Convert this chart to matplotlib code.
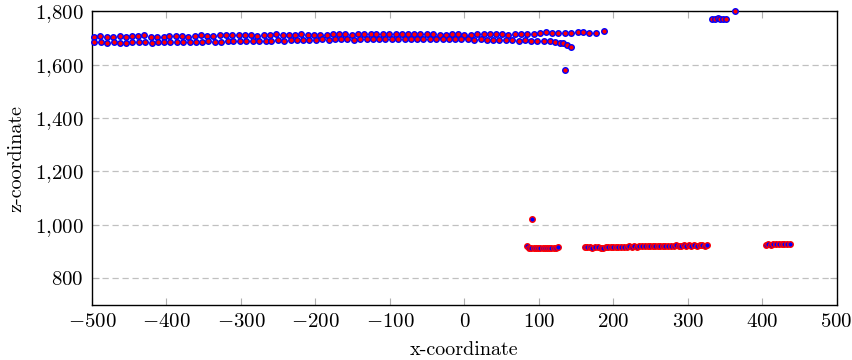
import matplotlib
matplotlib.use("Agg")
import matplotlib.pyplot as plt
from matplotlib.ticker import FixedLocator, FuncFormatter

# ---- data ----
row1_x = [-497, -489, -480, -472, -463, -455, -446, -438, -430, -421, -413, -404, -396, -387,
          -379, -371, -362, -354, -345, -337, -328, -320, -312, -303, -295, -286, -278, -269,
          -261, -253, -244, -236, -227, -219, -210, -202, -194, -185, -177, -168, -160, -151,
          -143, -135, -126, -118, -109, -101, -92, -84, -76, -67, -59, -50, -42, -33, -25, -17,
          -8, 0, 9, 17, 26, 34, 42, 51, 59, 68, 76, 84, 93, 101, 110, 118, 126, 135, 143, 152,
          160, 168, 177, 187]
row1_z = [1705, 1708, 1703, 1702, 1707, 1704, 1706, 1708, 1709, 1704, 1705, 1705, 1706, 1707,
          1706, 1705, 1708, 1709, 1708, 1707, 1709, 1711, 1710, 1709, 1710, 1709, 1708, 1710,
          1712, 1713, 1711, 1710, 1712, 1713, 1712, 1711, 1711, 1712, 1713, 1714, 1713, 1712,
          1714, 1715, 1714, 1713, 1713, 1713, 1714, 1713, 1713, 1713, 1713, 1714, 1713, 1712,
          1712, 1713, 1714, 1712, 1712, 1715, 1713, 1713, 1713, 1713, 1712, 1714, 1716, 1715,
          1716, 1719, 1721, 1718, 1718, 1718, 1719, 1722, 1721, 1719, 1720, 1727]

row2_x = [-497, -488, -480, -471, -463, -454, -446, -437, -429, -420, -412, -403, -395, -386,
          -378, -369, -361, -352, -344, -335, -327, -318, -310, -301, -293, -284, -276, -267,
          -259, -250, -242, -233, -225, -216, -208, -199, -191, -182, -174, -165, -157, -148,
          -140, -131, -123, -114, -106, -97, -89, -80, -72, -63, -55, -46, -38, -29, -21, -12,
          -4, 5, 13, 22, 30, 39, 47, 56, 64, 73, 81, 90, 98, 107, 115, 122, 128, 133, 138, 143]
row2_z = [1683, 1684, 1682, 1683, 1681, 1682, 1684, 1683, 1685, 1682, 1683, 1684, 1683, 1685,
          1684, 1686, 1685, 1686, 1687, 1686, 1685, 1687, 1688, 1689, 1688, 1687, 1689, 1690,
          1690, 1691, 1690, 1692, 1693, 1692, 1691, 1693, 1694, 1693, 1694, 1695, 1694, 1693,
          1695, 1694, 1696, 1695, 1694, 1695, 1696, 1695, 1694, 1695, 1696, 1695, 1694, 1695,
          1696, 1695, 1694, 1695, 1693, 1694, 1692, 1693, 1691, 1692, 1691, 1690, 1691, 1690,
          1690, 1689, 1688, 1685, 1682, 1679, 1674, 1667]

up_out_x = [135]
up_out_z = [1579]

upright_x = [332, 336, 340, 344, 348, 352, 363]
upright_z = [1772, 1771, 1773, 1770, 1771, 1771, 1801]

low1_x = [84, 87, 90, 93, 96, 99, 102, 105, 108, 111, 114, 117, 120, 123, 126]
low1_z = [921, 915, 913, 912, 914, 913, 912, 914, 913, 912, 913, 914, 912, 915, 917]

low_out_x = [91]
low_out_z = [1022]

low2_x = [162, 165, 169, 172, 176, 179, 183, 186, 190, 193, 197, 200, 204, 207, 211, 214,
          218, 221, 225, 228, 232, 235, 239, 242, 246, 249, 253, 256, 260, 263, 267, 270,
          274, 277, 281, 284, 288, 291, 295, 298, 302, 305, 309, 312, 316, 319, 323, 326]
low2_z = [918, 917, 916, 912, 917, 916, 915, 914, 916, 917, 916, 917, 918, 917, 918, 917,
          918, 919, 918, 919, 918, 919, 920, 919, 920, 919, 921, 920, 921, 920, 921, 922,
          921, 922, 921, 923, 922, 921, 923, 922, 924, 921, 923, 922, 924, 923, 922, 924]

low3_x = [405, 408, 412, 415, 419, 422, 426, 429, 433, 437]
low3_z = [926, 927, 926, 928, 927, 929, 928, 927, 928, 927]

xticks = [-500, -400, -300, -200, -100, 0, 100, 200, 300, 400, 500]
yticks = [800, 1000, 1200, 1400, 1600, 1800]

# ---- style ----
plt.rcParams['mathtext.fontset'] = 'cm'
plt.rcParams['font.family'] = ['cmr10', 'DejaVu Serif']
plt.rcParams['axes.formatter.use_mathtext'] = True

fig = plt.figure(figsize=(8.52, 3.60), dpi=100)
ax = fig.add_axes([0.108, 0.153, 0.874, 0.816])

ms = 16
lw = 1.0
ax.scatter(row1_x + row2_x + up_out_x + upright_x,
           row1_z + row2_z + up_out_z + upright_z,
           s=ms, facecolor='red', edgecolor='blue', linewidths=lw, zorder=3, clip_on=False)
ax.scatter(low1_x + low_out_x + low2_x + low3_x,
           low1_z + low_out_z + low2_z + low3_z,
           s=ms, facecolor='blue', edgecolor='red', linewidths=lw, zorder=3, clip_on=False)

ax.set_xlim(-500, 500)
ax.set_ylim(700, 1800)
ax.xaxis.set_major_locator(FixedLocator(xticks))
ax.yaxis.set_major_locator(FixedLocator(yticks))
ax.xaxis.set_major_formatter(FuncFormatter(lambda v, p: r'$%d$' % v))
ax.yaxis.set_major_formatter(FuncFormatter(
    lambda v, p: (r'$%d{,}%03d$' % (int(v) // 1000, int(v) % 1000)) if v >= 1000 else r'$%d$' % v))

ax.yaxis.grid(True, color='#c0c0c0', linestyle=(0, (5, 3)), linewidth=0.9)
ax.set_axisbelow(True)
ax.tick_params(axis='both', which='major', direction='in', length=5, width=0.8,
               color='#b0b0b0', labelsize=15, top=True, right=True, pad=6)
for sp in ax.spines.values():
    sp.set_linewidth(1.0)
    sp.set_color('black')

ax.set_xlabel('x-coordinate', fontsize=14.5, labelpad=7)
ax.set_ylabel('z-coordinate', fontsize=14.5, labelpad=7)

fig.savefig('out.png', dpi=100)
